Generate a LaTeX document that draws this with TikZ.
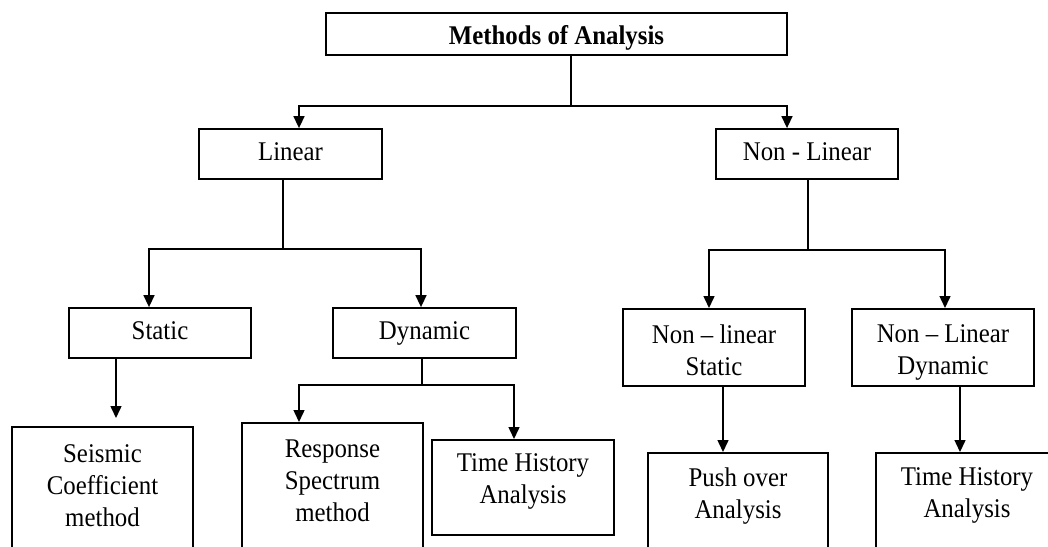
\documentclass[tikz,border=0pt]{standalone}
\usepackage{fontspec}
\setmainfont{Liberation Serif}[FakeStretch=0.92]
\usetikzlibrary{arrows.meta}
\newcommand\cellbox[4]{\parbox[c][#2][t]{#1}{\centering\vspace*{#3}#4\par}}
\begin{document}
\begin{tikzpicture}[x=1pt,y=-1pt,
  every node/.style={font=\fontsize{27}{32}\selectfont},
  bx/.style={draw, line width=1.8pt, inner sep=0pt, align=center},
  one/.style={bx, text height=18pt, text depth=5pt},
  ln/.style={line width=1.5pt},
  arr/.style={ln, -{Triangle[length=12pt,width=11pt]}}]
\useasboundingbox (0,0) rectangle (1048,546);
% boxes
\node[bx, minimum width=461pt, minimum height=42pt, text height=20pt, text depth=0pt, font=\fontsize{27}{32}\selectfont\bfseries] (top) at (556.5,34) {Methods of Analysis};
\node[one, minimum width=183pt, minimum height=50pt] (lin) at (290.5,154) {Linear};
\node[one, minimum width=182pt, minimum height=50pt] (nl) at (807,154) {Non - Linear};
\node[one, minimum width=182pt, minimum height=50pt] (stat) at (160,333) {Static};
\node[one, minimum width=183pt, minimum height=50pt] (dyn) at (424.5,333) {Dynamic};
\node[bx, anchor=north] (nls) at (714,308) {\cellbox{182pt}{77pt}{15.6pt}{Non – linear\\Static}};
\node[bx, anchor=north] (nld) at (943,308) {\cellbox{182pt}{77pt}{15.6pt}{Non – Linear\\Dynamic}};
\node[bx, anchor=north] (seis) at (102.5,426) {\cellbox{181pt}{130pt}{17.6pt}{Seismic\\Coefficient\\method}};
\node[bx, anchor=north] (resp) at (332.5,422) {\cellbox{181pt}{134pt}{17pt}{Response\\Spectrum\\method}};
\node[bx, anchor=north] (th1) at (523,439) {\cellbox{182pt}{95pt}{13.6pt}{Time History\\Analysis}};
\node[bx, anchor=north] (push) at (738,452) {\cellbox{180pt}{110pt}{14.6pt}{Push over\\Analysis}};
\node[bx, anchor=north] (th2) at (967,452) {\cellbox{182pt}{110pt}{14.6pt}{Time History\\Analysis}};
% junction coordinates
\coordinate (tj) at (571,106);
\coordinate (tl) at (299,106);
\coordinate (tr) at (787,106);
\coordinate (lj) at (283,249);
\coordinate (ll) at (149,249);
\coordinate (lr) at (421,249);
\coordinate (nj) at (808,250);
\coordinate (nll) at (709,250);
\coordinate (nlr) at (945,250);
\coordinate (sj) at (116,390);
\coordinate (dj) at (422,385);
\coordinate (dl) at (299,385);
\coordinate (dr) at (514,385);
\coordinate (pj) at (723,420);
\coordinate (qj) at (960,420);
% connectors
\draw[ln] (top.south -| tj) -- (tj);
\draw[arr] (tj) -- (tl) -- (lin.north -| tl);
\draw[arr] (tj) -- (tr) -- (nl.north -| tr);
\draw[ln] (lin.south -| lj) -- (lj);
\draw[arr] (lj) -- (ll) -- (stat.north -| ll);
\draw[arr] (lj) -- (lr) -- (dyn.north -| lr);
\draw[ln] (nl.south -| nj) -- (nj);
\draw[arr] (nj) -- (nll) -- (nls.north -| nll);
\draw[arr] (nj) -- (nlr) -- (nld.north -| nlr);
\draw[arr, shorten >=8pt] (stat.south -| sj) -- (seis.north -| sj);
\draw[ln] (dyn.south -| dj) -- (dj);
\draw[arr] (dj) -- (dl) -- (resp.north -| dl);
\draw[arr] (dj) -- (dr) -- (th1.north -| dr);
\draw[arr] (nls.south -| pj) -- (push.north -| pj);
\draw[arr] (nld.south -| qj) -- (th2.north -| qj);
\end{tikzpicture}
\end{document}
